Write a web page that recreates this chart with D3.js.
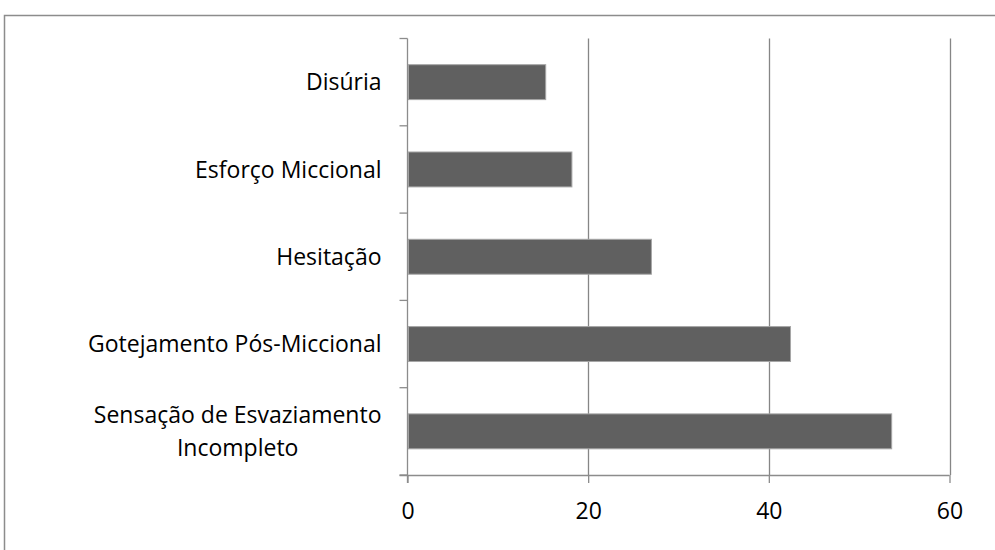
<!DOCTYPE html>
<html><head><meta charset="utf-8">
<script src="https://cdn.jsdelivr.net/npm/d3@7"></script>
<style>body{margin:0;background:#fff}svg{display:block}</style>
</head><body>
<svg id="c" width="995" height="550"></svg>
<script>
const categories = ["Disúria","Esforço Miccional","Hesitação","Gotejamento Pós-Miccional","Sensação de Esvaziamento Incompleto"];
const labelLines = [["Disúria"],["Esforço Miccional"],["Hesitação"],["Gotejamento Pós-Miccional"],["Sensação de Esvaziamento","Incompleto"]];
const values = [15.3, 18.2, 27.0, 42.4, 53.6];
const xTicks = [0, 20, 40, 60];

const svg = d3.select("#c");
const m = {left:407.5, right:949.5, top:38.5, bottom:475};
const font = "'Open Sans', Lato, sans-serif";
const fs = 23;

svg.append("rect").attr("x",4.5).attr("y",15.5).attr("width",1000).attr("height",600)
  .attr("fill","none").attr("stroke","#8c8c8c").attr("stroke-width",1.5);

const x = d3.scaleLinear().domain([0,60]).range([m.left,m.right]);
const y = d3.scaleBand().domain(categories).range([m.top,m.bottom]).paddingInner(0.6).paddingOuter(0.3);
const yb = d3.scaleBand().domain(categories).range([m.top,m.bottom]);

// gridlines
svg.append("g").selectAll("line").data(xTicks.slice(1)).join("line")
  .attr("x1",d=>Math.round(x(d))+0.5).attr("x2",d=>Math.round(x(d))+0.5)
  .attr("y1",m.top).attr("y2",m.bottom)
  .attr("stroke","#868686").attr("stroke-width",1.3);

// bars
svg.append("g").selectAll("rect").data(values).join("rect")
  .attr("x",x(0)+1).attr("y",(d,i)=>y(categories[i]))
  .attr("width",d=>x(d)-x(0)-1).attr("height",y.bandwidth())
  .attr("fill","#606060").attr("stroke","#a6a6a6").attr("stroke-width",1);

// x axis
const xAxis = d3.axisBottom(x).tickValues(xTicks).tickSize(8).tickSizeOuter(0).tickPadding(20);
const gx = svg.append("g").attr("transform",`translate(0,${m.bottom})`).call(xAxis);
gx.select(".domain").attr("d",`M${m.left-8},0.5H${m.right}`).attr("stroke","#8c8c8c").attr("stroke-width",1.3);
gx.selectAll(".tick line").attr("stroke","#8c8c8c").attr("stroke-width",1.3);
gx.selectAll(".tick text").attr("font-family",font).attr("font-size",fs).attr("fill","#000");

// y axis with ticks at band boundaries
const bounds = categories.map(c=>yb(c)).concat([m.bottom]);
const gy = svg.append("g");
gy.append("line").attr("x1",m.left).attr("x2",m.left).attr("y1",m.top).attr("y2",m.bottom+8)
  .attr("stroke","#8c8c8c").attr("stroke-width",1.3);
gy.selectAll("line.t").data(bounds).join("line").attr("class","t")
  .attr("x1",m.left-8).attr("x2",m.left).attr("y1",d=>d).attr("y2",d=>d)
  .attr("stroke","#8c8c8c").attr("stroke-width",1.3);

// y labels
const lg = svg.append("g");
labelLines.forEach((lines,i)=>{
  const cy = yb(categories[i]) + yb.bandwidth()/2;
  const lh = 33;
  const t = lg.append("text").attr("font-family",font).attr("font-size",fs).attr("fill","#000")
    .attr("text-anchor","middle");
  lines.forEach((s,j)=>{
    t.append("tspan").attr("x",0).attr("y",cy + (j-(lines.length-1)/2)*lh).attr("dy","0.35em").text(s);
  });
  const w = t.node().getBBox().width;
  t.attr("transform",`translate(${m.left-26-w/2},0)`);
});
</script>
</body></html>
